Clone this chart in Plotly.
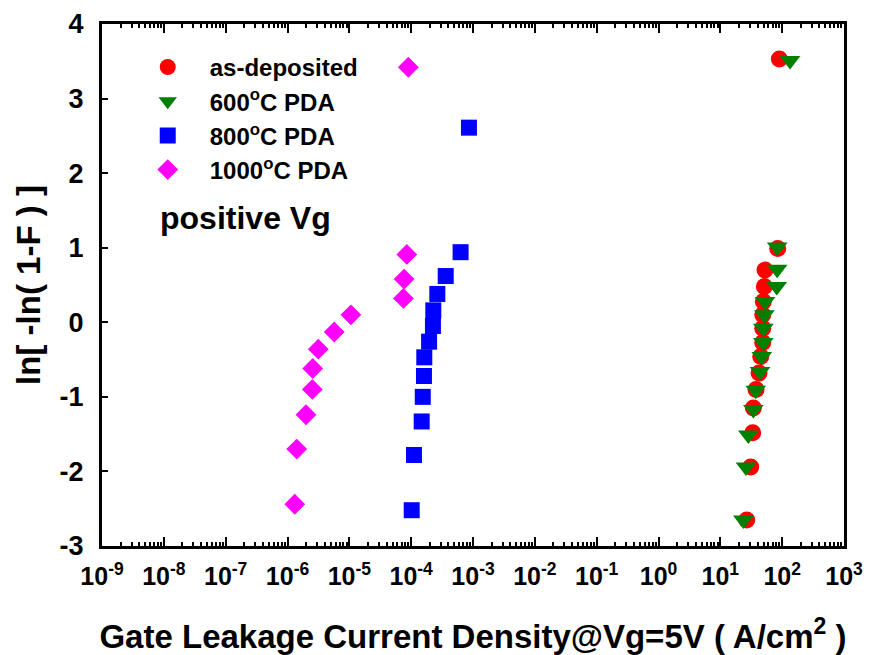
import plotly.graph_objects as go

# Gate leakage current density (A/cm^2) and Weibull ln[-ln(1-F)] values
asdep_j = [90, 84.8, 52.8, 51.5, 49.6, 48.5, 48.5, 48.5, 45.0, 42.3, 37.8, 34.2, 33.4, 31.0, 26.7]
asdep_w = [3.53, 0.99, 0.70, 0.48, 0.28, 0.10, -0.08, -0.27, -0.46, -0.68, -0.90, -1.15, -1.48, -1.94, -2.65]

pda600_j = [134, 83, 83, 81.7, 52.8, 51.5, 49.6, 49.6, 46.8, 43.9, 37.4, 34.2, 28.4, 26.0, 23.6]
pda600_w = [3.51, 1.01, 0.71, 0.48, 0.28, 0.10, -0.08, -0.27, -0.46, -0.66, -0.91, -1.17, -1.51, -1.94, -2.65]

pda800_j = [8.6e-4, 6.3e-4, 3.62e-4, 2.65e-4, 2.28e-4, 2.25e-4, 1.95e-4, 1.63e-4, 1.61e-4, 1.54e-4, 1.48e-4, 1.11e-4, 1.02e-4]
pda800_w = [2.61, 0.94, 0.62, 0.38, 0.16, -0.05, -0.26, -0.47, -0.72, -1.00, -1.33, -1.78, -2.52]

pda1000_j = [9.0e-5, 8.5e-5, 7.7e-5, 7.5e-5, 1.06e-5, 5.7e-6, 3.15e-6, 2.56e-6, 2.52e-6, 1.99e-6, 1.41e-6, 1.31e-6]
pda1000_w = [3.42, 0.91, 0.58, 0.32, 0.10, -0.13, -0.36, -0.62, -0.90, -1.24, -1.70, -2.44]

decades = list(range(-9, 4))
tick_vals = [10.0 ** k for k in decades]
tick_text = [f"10<sup>{k}</sup>" for k in decades]
minor_vals = [m * 10.0 ** k for k in range(-9, 3) for m in range(2, 10)]
y_ticks = list(range(-3, 5))
y_tick_text = [str(v) for v in y_ticks]

FONT = "Liberation Sans, Arial, sans-serif"

series = [
    ("as-deposited", asdep_j, asdep_w, "circle", "#ff0000", 17),
    ("600<sup>o</sup>C PDA", pda600_j, pda600_w, "triangle-down", "#008000", 18),
    ("800<sup>o</sup>C PDA", pda800_j, pda800_w, "square", "#0000ff", 16),
    ("1000<sup>o</sup>C PDA", pda1000_j, pda1000_w, "diamond", "#ff00ff", 16),
]

fig = go.Figure()
for i, (name, xs, ys, sym, col, sz) in enumerate(series):
    fig.add_trace(go.Scatter(
        x=xs, y=ys, mode="markers", name=name, legendgroup=f"g{i}",
        marker=dict(symbol=sym, size=sz, color=col, line=dict(width=0)),
    ))

title_font = dict(family=FONT, size=33, color="black", weight="bold")

fig.update_layout(
    width=869, height=655,
    margin=dict(l=102, r=25, t=24, b=109),
    paper_bgcolor="white", plot_bgcolor="white",
    showlegend=True,
    legend=dict(
        x=0.032, y=0.96, xanchor="left", yanchor="top",
        font=dict(family=FONT, size=24, color="black", weight="bold"),
        bgcolor="rgba(0,0,0,0)", itemwidth=74, tracegroupgap=0,
        itemsizing="trace",
    ),
    annotations=[dict(
        text="positive Vg", xref="paper", yref="paper", x=0.0755, y=0.628,
        xanchor="left", yanchor="middle", showarrow=False,
        font=dict(family=FONT, size=32, color="black", weight="bold"),
    )],
    xaxis=dict(
        type="log", range=[-9, 3], tickmode="array",
        tickvals=tick_vals, ticktext=tick_text, automargin=False,
        ticks="inside", ticklen=9, tickwidth=2, tickcolor="black",
        showline=True, linewidth=3, linecolor="black", mirror="ticks",
        showgrid=False, zeroline=False,
        tickfont=dict(family=FONT, size=25, color="black", weight="bold"),
        ticklabelstandoff=6,
        minor=dict(tickmode="array", tickvals=minor_vals, ticks="inside",
                   ticklen=4, tickwidth=2, tickcolor="black", showgrid=False),
        title=dict(text="Gate Leakage Current Density@Vg=5V ( A/cm<sup>2</sup> )",
                   font=title_font, standoff=38),
    ),
    yaxis=dict(
        range=[-3, 4], tickmode="array", tickvals=y_ticks, ticktext=y_tick_text,
        automargin=False,
        ticks="inside", ticklen=6, tickwidth=2, tickcolor="black",
        showline=True, linewidth=3, linecolor="black", mirror=True,
        showgrid=False, zeroline=False,
        tickfont=dict(family=FONT, size=27, color="black", weight="bold"),
        ticklabelstandoff=10,
        title=dict(text="ln[ -ln( 1-F ) ]", font=title_font, standoff=10),
    ),
)

fig.write_html("out.html")
